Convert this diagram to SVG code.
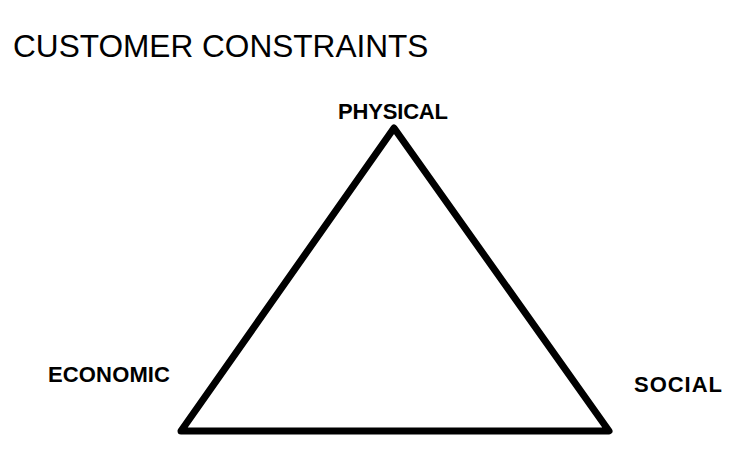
<svg xmlns="http://www.w3.org/2000/svg" width="752" height="453" viewBox="0 0 752 453">
<style>
.title{font-family:"Liberation Sans",Arial,sans-serif;font-size:31.6px;fill:#000}
.lbl{font-family:"Liberation Sans",Arial,sans-serif;font-size:22px;font-weight:bold;fill:#000}
.edge{fill:none;stroke:#000;stroke-width:7;stroke-linejoin:round;stroke-linecap:round}
</style>
<rect width="752" height="453" fill="#fff"/>
<text class="title" x="13" y="57">CUSTOMER CONSTRAINTS</text>
<g id="connectors">
<path class="edge" d="M394,128 L609,431 L181,431 Z"/>
</g>
<g id="physical"><text class="lbl" x="338" y="119" textLength="110" lengthAdjust="spacing">PHYSICAL</text></g>
<g id="economic"><text class="lbl" x="48" y="382" textLength="122" lengthAdjust="spacing">ECONOMIC</text></g>
<g id="social"><text class="lbl" x="634" y="392" textLength="88" lengthAdjust="spacing">SOCIAL</text></g>
</svg>
